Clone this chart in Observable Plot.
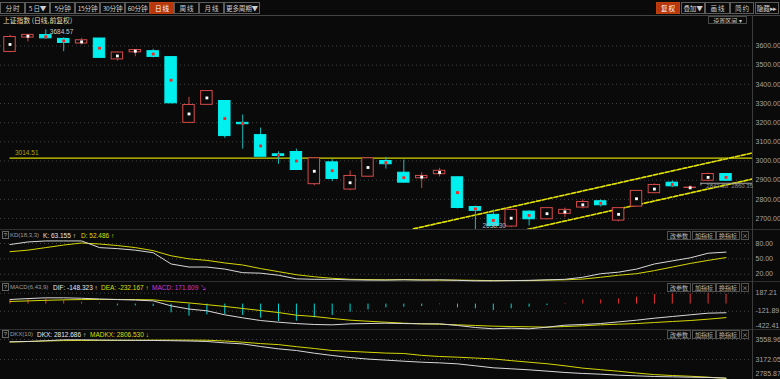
<!DOCTYPE html>
<html><head><meta charset="utf-8">
<script src="https://cdn.jsdelivr.net/npm/d3@7"></script>
<script src="https://cdn.jsdelivr.net/npm/@observablehq/plot@0.6"></script>
<style>
body{margin:0;background:#0a0a0a;}
#wrap{position:relative;width:780px;height:379px;background:#0a0a0a;overflow:hidden;font-family:"Liberation Sans","Noto Sans CJK SC",sans-serif;}
.btn{position:absolute;box-sizing:border-box;border:1px solid #5c5c5c;color:#cfcfcf;text-align:center;white-space:nowrap;font-family:"Noto Sans CJK SC",sans-serif;overflow:hidden;}
.btn.on{background:#b8360e;border-color:#c0400f;color:#fff;}
.hl{position:absolute;background:#333;}
.t{position:absolute;white-space:nowrap;font-size:6.5px;line-height:9px;}
svg{position:absolute;left:0;}
</style></head>
<body><div id="wrap"></div>
<script>
// ---------- data ----------
const open  = [3569,3644,3657,3637,3613,3639,3530,3567,3573,3542,3199,3293,3313,3199,3135,3035,3047,2879,2993,2851,2918,3000,2939,2910,2931,2915,2760,2719,2658,2736,2696,2724,2757,2790,2689,2762,2832,2887,2859,2897,2932];
const high  = [3656,3660,3684.57,3643,3640,3640,3568,3580,3583,3545,3332,3367,3315,3240,3172,3048,3062,3015,3007,2948,3014,3019,3005,2939,2962,2918,2765,2745,2745,2740,2754,2754,2797,2797,2756,2844,2880,2896,2871,2937,2935];
const low   = [3565,3621,3636,3570,3606,3536,3521,3544,3538,3298,3196,3290,3118,3062,3020,2983,2950,2871,2892,2845,2915,2958,2884,2856,2917,2750,2638.3,2655,2652,2661,2694,2705,2750,2760,2682,2760,2830,2861,2850,2892,2895];
const close = [3647,3658,3640,3616,3630,3538,3566,3579,3543,3301,3292,3365,3130,3192,3022,3026,2953,3014,2906,2922,3014,2983,2887,2922,2949,2755,2740,2661,2745,2696,2754,2745,2786,2769,2754,2844,2875,2868,2861,2932,2897];

const kValues = [78,83,85,85,85,72,70,67,62,40,34,34,30,23,22,18,11,10,10,9,8.5,8.5,9,8.5,9,8,7,7,7.5,8,9,10,14,21,24,30,40,46,52,61,63.155];
const dValues = [64,67,72,77,81,79,76,72,66,56,50,47,42,38,31,25,19,15,12,10,9.5,9,9.5,9,8.5,8.5,8,7.5,7.5,7.5,8.5,9,10.5,14,18,21,27,34,41,47,52.486];

const difValues = [79,95,108,108,100,88,78,70,55,-30,-85,-115,-184,-236,-282,-311,-334,-350,-356,-339,-334,-328,-334,-339,-339,-367,-402,-424,-413,-424,-396,-362,-350,-334,-305,-276,-242,-213,-184,-156,-148.323];
const deaValues = [45,55,65,73,78,80,80,78,73,45,20,-10,-40,-75,-110,-145,-190,-213,-247,-276,-294,-311,-328,-339,-345,-356,-367,-379,-385,-390,-396,-385,-373,-356,-345,-334,-316,-299,-282,-259,-232.167];
const macdBars  = [62,79,90,62,33,16,-30,-30,-41,-150,-207,-184,-179,-196,-242,-299,-293,-236,-196,-139,-99,-64,-53,-41,-10,-64,-81,-110,-81,-53,-24,10,73,73,90,119,165,176,176,188,171.609];

const dkxValues   = [3515,3520,3535,3553,3553,3548,3545,3542,3540,3536,3530,3520,3494,3474,3423,3378,3346,3294,3250,3210,3180,3160,3139,3120,3107,3088,3050,3011,2992,2972,2947,2921,2902,2888,2869,2856,2843,2837,2830,2825,2812.686];
const madkxValues = [3510,3520,3530,3538,3540,3542,3543,3545,3547,3548,3547,3545,3530,3507,3480,3460,3420,3385,3346,3330,3313,3296,3288,3252,3230,3217,3200,3183,3150,3120,3090,3050,3005,2975,2945,2910,2880,2862,2848,2830,2806.53];

const priceTicks = [2700,2800,2900,3000,3100,3200,3300,3400,3500,3600];
const kdTicks = [80,50,20];
const macdTicks = [187.21,-121.89,-422.41];
const dkxTicks = [3558.96,3172.05,2785.87];

const hLinePrice = 3014.51;
const upperChannel = [{i:22.54,p:2646},{i:41.48,p:3042}];
const lowerChannel = [{i:28.9,p:2643},{i:41.48,p:2906}];
const peakLabel = "3684.57", troughLabel = "2638.30";
const rangeLine = 2884, rangeText = "2842.38  2860.35";

const toolbarLeft = ["分 时","5 日▼","5分钟","15分钟","30分钟","60分钟","日 线","周 线","月 线","更多周期▼"];
const toolbarRight = ["复 权","叠加▼","画 线","简 约","隐藏▸▸"];
const panelButtons = ["改参数","加指标","换指标","×"];
const titleText = "上证指数 (日线,前复权)";

// ---------- layout ----------
const wrap = document.getElementById("wrap");
const leftX = [[0,24],[25,49],[50,74],[75,99],[100,124],[125,149],[150,173],[174,198],[199,223],[224,259]];
const rightX = [[656,679],[681,704],[705,729],[730,753],[755,778]];
function el(cls, css, text){const d=document.createElement("div");d.className=cls;Object.assign(d.style,css);if(text!=null)d.textContent=text;wrap.appendChild(d);return d;}
toolbarLeft.forEach((s,k)=>el("btn"+(k===6?" on":""),{left:leftX[k][0]+"px",top:"2px",width:(leftX[k][1]-leftX[k][0]+1)+"px",height:"12px",fontSize:"6.6px",lineHeight:"10px",letterSpacing:"-0.2px"},s));
toolbarRight.forEach((s,k)=>el("btn"+(k===0?" on":""),{left:rightX[k][0]+"px",top:"2px",width:(rightX[k][1]-rightX[k][0]+1)+"px",height:"12px",fontSize:"6.6px",lineHeight:"10px",letterSpacing:"-0.2px"},s));
el("hl",{left:"0px",top:"15px",width:"780px",height:"1px",background:"#444"});
[229,281,329].forEach(y=>el("hl",{left:"0px",top:y+"px",width:"780px",height:"1px",background:"#303030"}));
el("hl",{left:"752px",top:"15px",width:"1px",height:"364px",background:"#3c3c3c"});
el("t",{left:"3px",top:"16px",color:"#e6dfae",fontFamily:"'Noto Sans CJK SC',sans-serif",fontSize:"6.8px"},titleText);
el("btn",{left:"708px",top:"16px",width:"39px",height:"8px",fontSize:"6px",lineHeight:"7px",borderColor:"#4a4a4a"},"设置区间 ▾");

const pbX=[[667,690],[692,715],[716,739],[741,748]];
[231,283,330].forEach(y=>panelButtons.forEach((s,k)=>el("btn",{left:pbX[k][0]+"px",top:y+"px",width:(pbX[k][1]-pbX[k][0]+1)+"px",height:"9px",fontSize:"6px",lineHeight:"8px",color:"#bbb",borderColor:"#505050"},s)));

function header(y, parts){
  el("t",{left:"2px",top:(y-4)+"px",width:"7px",height:"8px",border:"1px solid #666",boxSizing:"border-box",color:"#aaa",fontSize:"6px",lineHeight:"6px",textAlign:"center"},"?");
  parts.forEach(([x,txt,col,fs])=>el("t",{left:x+"px",top:(y-4.5)+"px",color:col,fontSize:(fs||6.5)+"px"},txt));
}
header(235,[[10,"KD(18,3,3)","#9a9a9a",6],[43,"K: 63.155 ↑","#e8e8e8"],[81,"D: 52.486 ↑","#dede00"]]);
header(287,[[10,"MACD(6,43,9)","#9a9a9a",6],[53,"DIF: -148.323 ↑","#e8e8e8"],[101,"DEA: -232.167 ↑","#dede00"],[152,"MACD: 171.609 ↘","#d236d2"]]);
header(334,[[10,"DKX(10)","#9a9a9a",6],[37,"DKX: 2812.686 ↑","#e8e8e8"],[90,"MADKX: 2806.530 ↓","#dede00"]]);

// ---------- plots ----------
const idx = d3.range(open.length);
const X = {domain:[-9.5/17.9, -9.5/17.9 + 752/17.9], axis:null};
const base = {width:780, marginLeft:0, marginRight:28, marginTop:0, marginBottom:0,
  style:{background:"transparent", color:"#a2a2aa", fontFamily:"'Liberation Sans',sans-serif", fontSize:"7px", overflow:"visible"}};
const fmt = d => d.toFixed(2);
const grid = (ticks) => Plot.ruleY(ticks, {stroke:"#444", strokeDasharray:"1,3"});
const axis = (ticks, opts={}) => Plot.axisY(ticks, {anchor:"right", tickSize:0, tickPadding:3, tickFormat:fmt, fontSize:7, label:null, ...opts});
const up = i => close[i] >= open[i];
const W = 0.32;

function place(svg, top){svg.style.top = top+"px"; wrap.appendChild(svg);}

const main = Plot.plot({...base, height:213, x:X, y:{domain:[2642.6,3753.9], label:null},
  marks:[
    grid(priceTicks),
    axis(priceTicks),
    Plot.ruleY([hLinePrice], {x1:0, x2:41.48, stroke:"#d4d400", strokeWidth:1.2}),
    Plot.text([hLinePrice], {x:0, y:d=>d, text:fmt, dx:5, dy:-5, textAnchor:"start", fill:"#a8a800", fontSize:6.5}),
    Plot.line(upperChannel, {x:"i", y:"p", stroke:"#5c5c00", clip:true}),
    Plot.line(upperChannel, {x:"i", y:"p", stroke:"#e6e600", strokeDasharray:"4,2", clip:true}),
    Plot.line(lowerChannel, {x:"i", y:"p", stroke:"#5c5c00", clip:true}),
    Plot.line(lowerChannel, {x:"i", y:"p", stroke:"#e6e600", strokeDasharray:"4,2", clip:true}),
    Plot.ruleY([rangeLine], {x1:38.6, x2:41.48, stroke:"#a8a8a8", strokeWidth:1.2}),
    Plot.ruleX([38.6], {y1:rangeLine, y2:rangeLine-14, stroke:"#a8a8a8"}),
    Plot.text([rangeText], {x:38.9, y:rangeLine-16, text:d=>d, textAnchor:"start", fill:"#8a8a8a", fontSize:6}),
    Plot.ruleX(idx, {x:d=>d, y1:i=>low[i], y2:i=>high[i], stroke:i=>up(i)?"#cc4444":"#1fb8b8", clip:true}),
    Plot.rect(idx, {x1:i=>i-W, x2:i=>i+W, y1:i=>open[i], y2:i=>close[i],
      fill:i=>up(i)?"#0a0a0a":"#00f0f0", stroke:i=>up(i)?"#d84a4a":"#00f0f0", strokeWidth:1, clip:true}),
    Plot.dot(idx, {x:d=>d, y:i=>(open[i]+close[i])/2, symbol:"square", r:1.6, fill:i=>up(i)?"#ffffff":"#ff1e1e"}),
    Plot.text([peakLabel], {x:2, y:high[2], text:d=>d, dx:4, dy:2, textAnchor:"start", fill:"#c8c8c8", fontSize:6.5}),
    Plot.text([troughLabel], {x:26, y:low[26], text:d=>d, dx:7, dy:-4, textAnchor:"start", fill:"#b8b8b8", fontSize:6.5})
  ]});
place(main, 16);

const kd = Plot.plot({...base, height:52, x:X, y:{domain:[3.8,105.4], label:null},
  marks:[
    grid(kdTicks), axis(kdTicks),
    Plot.line(idx, {x:d=>d, y:i=>dValues[i], stroke:"#d6d600", strokeWidth:1}),
    Plot.line(idx, {x:d=>d, y:i=>kValues[i], stroke:"#d8d8d8", strokeWidth:1})
  ]});
place(kd, 230);

const macd = Plot.plot({...base, height:47, x:X, y:{domain:[-436.2,371.0], label:null},
  marks:[
    grid(macdTicks.slice(0,2)),
    axis(macdTicks.slice(0,2)),
    axis(macdTicks.slice(2), {dy:-2.5}),
    Plot.ruleX(idx, {x:d=>d, y1:0, y2:i=>macdBars[i], stroke:i=>macdBars[i]>=0?"#e83232":"#00d8d8"}),
    Plot.line(idx, {x:d=>d, y:i=>deaValues[i], stroke:"#d6d600", strokeWidth:1}),
    Plot.line(idx, {x:d=>d, y:i=>difValues[i], stroke:"#d8d8d8", strokeWidth:1})
  ]});
place(macd, 282);

const dkx = Plot.plot({...base, height:49, x:X, y:{domain:[2785.1,3733.1], label:null},
  marks:[
    grid(dkxTicks.slice(0,2)),
    axis(dkxTicks.slice(0,2)),
    axis(dkxTicks.slice(2), {dy:-6}),
    Plot.line(idx, {x:d=>d, y:i=>madkxValues[i], stroke:"#d6d600", strokeWidth:1}),
    Plot.line(idx, {x:d=>d, y:i=>dkxValues[i], stroke:"#d8d8d8", strokeWidth:1})
  ]});
place(dkx, 330);
</script></body></html>
